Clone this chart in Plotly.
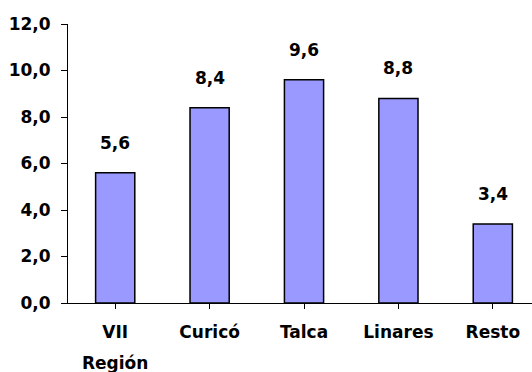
import plotly.graph_objects as go

categories = ["VII", "Curicó", "Talca", "Linares", "Resto"]
category_second_line = ["Región", "", "", "", ""]
values = [5.6, 8.4, 9.6, 8.8, 3.4]
y_ticks = [0, 2, 4, 6, 8, 10, 12]

FONT = dict(family="DejaVu Sans, sans-serif", size=17, color="black", weight="bold")

fig = go.Figure()
fig.add_trace(go.Bar(
    x=list(range(len(categories))),
    y=values,
    width=0.415,
    marker=dict(color="#9999FF", line=dict(color="black", width=1.5)),
    hoverinfo="skip",
))

for i, v in enumerate(values):
    fig.add_annotation(
        x=i, y=v, xref="x", yref="y",
        text=f"{v:.1f}".replace(".", ","),
        showarrow=False, yshift=30, yanchor="middle",
        font=FONT,
    )

for i, t in enumerate(category_second_line):
    if t:
        fig.add_annotation(
            x=i, y=0, xref="x", yref="paper",
            text=t, showarrow=False, yshift=-60, yanchor="middle",
            font=FONT,
        )

fig.update_layout(
    width=532, height=372,
    margin=dict(l=68, r=0, t=24, b=69),
    paper_bgcolor="white", plot_bgcolor="white",
    separators=",.",
    showlegend=False,
    font=FONT,
)
fig.update_xaxes(
    range=[-0.5, 4.415],
    tickvals=list(range(len(categories))),
    ticktext=categories,
    ticks="outside", tickson="boundaries", ticklen=5, tickwidth=1, tickcolor="black",
    showline=True, linecolor="black", linewidth=1,
    showgrid=False, zeroline=False,
    ticklabelstandoff=9,
    tickfont=FONT,
)
fig.update_yaxes(
    range=[0, 12],
    tickvals=y_ticks,
    tickformat=".1f",
    ticks="outside", ticklen=6, tickwidth=1, tickcolor="black",
    showline=True, linecolor="black", linewidth=1,
    showgrid=False, zeroline=False,
    ticklabelstandoff=7,
    tickfont=FONT,
)

fig.write_html("out.html")
